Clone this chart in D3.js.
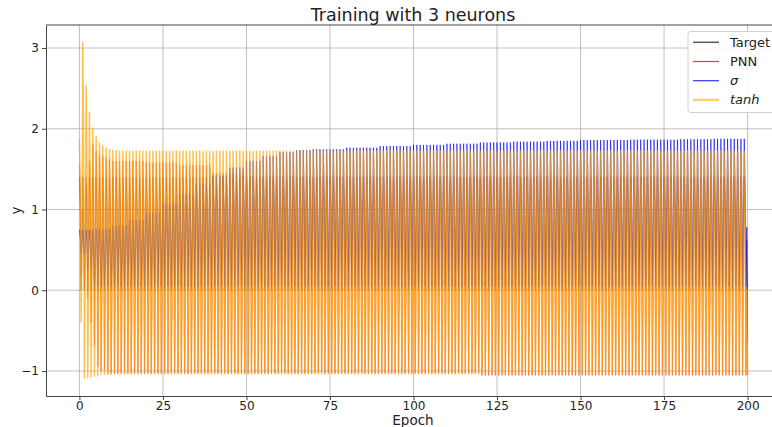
<!DOCTYPE html>
<html>
<head>
<meta charset="utf-8">
<script src="https://cdn.jsdelivr.net/npm/d3@7"></script>
<style>
    body { margin: 0; background: #fff; }
    svg text { font-family: "DejaVu Sans", sans-serif; fill: #222; }
</style>
</head>
<body>
<div id="chart"></div>
<script>
// Training with 3 neurons - outputs oscillate once per epoch
const width = 772, height = 427;
const plot = { left: 46, right: 781, top: 25, bottom: 396 };

const epochs = d3.range(0, 200);          // epoch index 0..199, last point lands on 200
const xTicks = [0, 25, 50, 75, 100, 125, 150, 175, 200];
const yTicks = [-1, 0, 1, 2, 3];

// sample positions inside one epoch and the shape of each series (fraction trough->peak)
const offsets = [0, 0.25, 0.5, 0.75];
const targetShape = [1, 0.75, 0, 0.45];
const pnnShape = [1, 0.8, 0, 0.43];
const sigmaShape = [1, 0.7, 0, 0.4];
const tanhShape = [1, 0.75, 0, 0.38];

// envelopes (value holds until the next listed epoch)
const targetPeakEp = [0], targetPeakVal = [1.40];
const targetTroughEp = [0], targetTroughVal = [0.0];

const pnnPeakEp = [0, 1, 2, 3, 4, 5, 6, 7, 8, 9, 10, 20, 30, 40, 50];
const pnnPeakVal = [1.57, 1.0, 1.3, 1.6, 1.81, 1.72, 1.69, 1.66, 1.64, 1.62, 1.60, 1.58, 1.55, 1.45, 1.41];
const pnnTroughEp = [0, 1, 2, 3, 4, 5, 6, 8, 120];
const pnnTroughVal = [0.16, 0.0, -0.1, -0.4, -0.7, -0.95, -1.0, -1.03, -1.055];

const sigmaPeakEp = [0, 5, 10, 15, 20, 25, 30, 35, 40, 45, 50, 55, 60, 65, 70, 80, 90, 100, 110, 120, 130, 140, 150, 165, 180, 190];
const sigmaPeakVal = [0.75, 0.76, 0.80, 0.87, 0.96, 1.07, 1.19, 1.31, 1.42, 1.52, 1.60, 1.66, 1.71, 1.735, 1.745, 1.765, 1.785, 1.80, 1.815, 1.83, 1.84, 1.85, 1.86, 1.865, 1.87, 1.875];
const sigmaTroughEp = [0, 2, 4];
const sigmaTroughVal = [0.45, 0.25, 0.05];

const tanhPeakEp = [0, 1, 2, 3, 4, 5, 6, 7, 8, 9, 10, 12];
const tanhPeakVal = [1.87, 3.07, 2.54, 2.21, 2.02, 1.91, 1.83, 1.80, 1.77, 1.75, 1.74, 1.73];
const tanhTroughEp = [0, 1, 2, 3, 4, 6, 10];
const tanhTroughVal = [-0.4, -1.10, -1.09, -1.08, -1.07, -1.05, -1.04];

// last sample at epoch 200
const endVals = { target: 0.0, pnn: -1.05, sigma: -0.65, tanh: -1.04 };

function hold(eps, vals, e) {
    return vals[Math.max(0, d3.bisectRight(eps, e) - 1)];
}

function buildSeries(shape, pEp, pVal, tEp, tVal, endVal) {
    const pts = [];
    epochs.forEach(e => {
        const hi = hold(pEp, pVal, e), lo = hold(tEp, tVal, e);
        offsets.forEach((o, k) => pts.push([e + o, lo + shape[k] * (hi - lo)]));
    });
    pts.push([200, endVal]);
    return pts;
}

const series = [
    { name: "Target", color: "#000", opacity: 0.4, w: 1, legendW: 1.5, legendOpacity: 0.65,
      pts: buildSeries(targetShape, targetPeakEp, targetPeakVal, targetTroughEp, targetTroughVal, endVals.target) },
    { name: "PNN", color: "#ff0000", opacity: 0.45, w: 1, legendW: 1.2, legendOpacity: 0.8,
      pts: buildSeries(pnnShape, pnnPeakEp, pnnPeakVal, pnnTroughEp, pnnTroughVal, endVals.pnn) },
    { name: "σ", italic: true, color: "#0000ff", opacity: 0.6, w: 1, legendW: 1.2, legendOpacity: 0.8,
      pts: buildSeries(sigmaShape, sigmaPeakEp, sigmaPeakVal, sigmaTroughEp, sigmaTroughVal, endVals.sigma) },
    { name: "tanh", italic: true, color: "#ffa500", opacity: 0.7, w: 1.4, legendW: 2.4, legendOpacity: 0.55,
      pts: buildSeries(tanhShape, tanhPeakEp, tanhPeakVal, tanhTroughEp, tanhTroughVal, endVals.tanh) }
];

const x = d3.scaleLinear().domain([-10, 210]).range([plot.left, plot.right]);
const y = d3.scaleLinear().domain([-1.31, 3.285]).range([plot.bottom, plot.top]);

const svg = d3.select("#chart").append("svg")
    .attr("width", width).attr("height", height);

svg.append("defs").append("clipPath").attr("id", "clip")
    .append("rect")
    .attr("x", plot.left).attr("y", plot.top)
    .attr("width", plot.right - plot.left).attr("height", plot.bottom - plot.top);

// grid
const grid = svg.append("g").attr("stroke", "#b0b0b0").attr("stroke-width", 0.8);
grid.selectAll(".gx").data(xTicks).enter().append("line")
    .attr("x1", d => x(d)).attr("x2", d => x(d))
    .attr("y1", plot.top).attr("y2", plot.bottom);
grid.selectAll(".gy").data(yTicks).enter().append("line")
    .attr("x1", plot.left).attr("x2", plot.right)
    .attr("y1", d => y(d)).attr("y2", d => y(d));

// lines
const line = d3.line().x(d => x(d[0])).y(d => y(d[1]));
const lines = svg.append("g").attr("clip-path", "url(#clip)");
series.forEach(s => {
    lines.append("path")
        .attr("d", line(s.pts))
        .attr("fill", "none")
        .attr("stroke", s.color)
        .attr("stroke-opacity", s.opacity)
        .attr("stroke-width", s.w)
        .attr("stroke-linejoin", "miter");
});

// axes
const xAxis = svg.append("g")
    .attr("transform", `translate(0,${plot.bottom})`)
    .call(d3.axisBottom(x).tickValues(xTicks).tickSize(4).tickSizeOuter(0).tickPadding(1)
        .tickFormat(d3.format("d")));
const yAxis = svg.append("g")
    .attr("transform", `translate(${plot.left},0)`)
    .call(d3.axisLeft(y).tickValues(yTicks).tickSize(4).tickSizeOuter(0).tickPadding(3)
        .tickFormat(d => d < 0 ? "\u2212" + Math.abs(d) : d));
[xAxis, yAxis].forEach(a => {
    a.select(".domain").attr("stroke", "#444");
    a.selectAll(".tick line").attr("stroke", "#444");
    a.selectAll(".tick text").attr("font-size", 12).attr("fill", "#222");
});
// top spine
svg.append("line")
    .attr("x1", plot.left).attr("x2", plot.right)
    .attr("y1", plot.top).attr("y2", plot.top)
    .attr("stroke", "#444");

// labels
svg.append("text")
    .attr("x", 413).attr("y", 21)
    .attr("text-anchor", "middle").attr("font-size", 17.5)
    .text("Training with 3 neurons");
svg.append("text")
    .attr("x", 413).attr("y", 424.5)
    .attr("text-anchor", "middle").attr("font-size", 13.5)
    .text("Epoch");
svg.append("text")
    .attr("transform", `translate(21,${(plot.top + plot.bottom) / 2}) rotate(-90)`)
    .attr("text-anchor", "middle").attr("font-size", 13.5)
    .text("y");

// legend
const legend = svg.append("g");
legend.append("rect")
    .attr("x", 688).attr("y", 31.5).attr("width", 100).attr("height", 81)
    .attr("rx", 3).attr("fill", "#fff").attr("fill-opacity", 0.85)
    .attr("stroke", "#d0d0d0");
series.forEach((s, i) => {
    const ly = 42.3 + i * 19.2;
    legend.append("line")
        .attr("x1", 693).attr("x2", 719).attr("y1", ly).attr("y2", ly)
        .attr("stroke", s.color).attr("stroke-opacity", s.legendOpacity || s.opacity)
        .attr("stroke-width", s.legendW);
    legend.append("text")
        .attr("x", 730).attr("y", ly).attr("dy", "0.35em")
        .attr("font-size", 13)
        .attr("font-style", s.italic ? "italic" : "normal")
        .text(s.name);
});
</script>
</body>
</html>
